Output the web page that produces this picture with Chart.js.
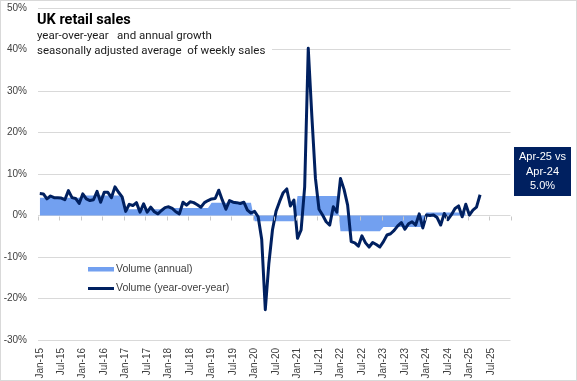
<!DOCTYPE html>
<html><head><meta charset="utf-8">
<script src="https://cdn.jsdelivr.net/npm/chart.js@4.4.1/dist/chart.umd.min.js"></script>
<style>html,body{margin:0;padding:0;background:#fff}#wrap{width:577px;height:381px;position:relative}canvas{display:block}</style>
</head><body><div id="wrap"><canvas id="c" width="577" height="381"></canvas></div>
<script>
// ---- data ----
const monthNames = ['Jan','Feb','Mar','Apr','May','Jun','Jul','Aug','Sep','Oct','Nov','Dec'];
const yearLabels = ['15','16','17','18','19','20','21','22','23','24','25'];
const categories = [];
yearLabels.forEach(y => monthNames.forEach(m => categories.push(m + '-' + y)));

// monthly volume, year-over-year % (Jan-15 .. Apr-25)
const yoyVolume = [
  5.3, 5.2, 4.0, 4.7, 4.3, 4.3, 4.2, 3.8, 6.0, 4.3, 4.1, 2.9,
  5.2, 4.0, 3.6, 3.8, 5.8, 3.2, 5.6, 5.6, 4.3, 6.9, 5.6, 4.5,
  1.0, 2.7, 2.4, 3.1, 0.8, 2.8, 0.8, 2.0, 0.9, 0.4, 1.2, 1.9,
  2.1, 1.7, 0.9, 0.4, 3.2, 2.5, 3.3, 3.1, 2.6, 2.0, 3.1, 3.6,
  4.0, 4.1, 6.1, 3.7, 1.5, 3.6, 3.2, 3.1, 2.9, 3.2, 1.3, 0.6,
  1.0, -0.3, -5.8, -22.7, -11.5, -3.5, 1.0, 3.4, 5.5, 6.4, 2.3, 3.7,
  -5.5, -3.5, 6.9, 40.3, 24.0, 9.0, 1.5, 0.1, -1.5, -2.3, 2.1, 0.8,
  8.9, 6.3, 2.5, -6.3, -6.6, -7.4, -4.9, -6.6, -7.6, -6.5, -7.0, -7.6,
  -6.3, -4.7, -4.4, -3.6, -2.5, -1.7, -3.3, -2.0, -1.5, -2.3, 0.4, -3.0,
  0.1, 0.0, 0.1, -0.5, -2.3, 0.5, -1.0, 0.2, 1.7, 2.3, -0.3, 2.7,
  0.1, 1.3, 2.0, 5.0
];
// annual volume growth %, 2015..2024
const annualYears = ['15','16','17','18','19','20','21','22','23','24'];
const annualVolume = [4.3, 4.8, 1.5, 1.8, 3.1, -1.4, 4.7, -3.8, -2.8, 0.7];

const yMin = -30, yMax = 50, yStep = 10;
const labelEvery = 6;

const seriesNames = ['Volume (annual)', 'Volume (year-over-year)'];
const titleText = 'UK retail sales';
const subtitleLines = ['year-over-year   and annual growth', 'seasonally adjusted average  of weekly sales'];

// annual values repeated across each month of their year (area chart)
const annualMonthly = [];
annualYears.forEach((y, i) => monthNames.forEach(() => annualMonthly.push(annualVolume[i])));

const NAVY = '#002060';
const LIGHT = '#72a0f0';
const GRID = '#d9d9d9';
const AXISFONT = "'Liberation Sans', Arial, sans-serif";

const bgPlugin = {
  id: 'bg',
  beforeDraw(chart) {
    const c = chart.ctx;
    c.save();
    c.fillStyle = '#fff';
    c.fillRect(0, 0, chart.width, chart.height);
    c.restore();
  }
};

const zeroTicks = {
  id: 'zeroTicks',
  afterDatasetsDraw(chart) {
    const xs = chart.scales.x, ys = chart.scales.y;
    const c = chart.ctx;
    const y0 = Math.round(ys.getPixelForValue(0)) + 0.5;
    const half = (xs.getPixelForValue(1) - xs.getPixelForValue(0)) / 2;
    c.save();
    c.strokeStyle = '#c8c8c8';
    c.lineWidth = 1;
    c.beginPath();
    for (let i = 0; i <= categories.length; i += labelEvery) {
      const x = Math.round(xs.getPixelForValue(i) - half) + 0.5;
      c.moveTo(x, y0);
      c.lineTo(x, y0 + 4);
    }
    c.stroke();
    c.restore();
  }
};

const overlay = {
  id: 'overlay',
  afterDraw(chart) {
    const c = chart.ctx;
    c.save();
    // title block
    c.fillStyle = '#fff';
    c.fillRect(36, 10, 236, 49);
    c.fillStyle = '#000';
    c.textBaseline = 'alphabetic';
    c.textAlign = 'left';
    c.font = "bold 14.5px Roboto, sans-serif";
    c.fillText(titleText, 37, 23.5);
    c.fillStyle = '#1a1a1a';
    c.font = "11.5px Roboto, sans-serif";
    c.fillText(subtitleLines[0], 37, 38.5);
    c.fillText(subtitleLines[1], 37, 54);

    // legend
    const ds = chart.data.datasets;
    c.font = "10.5px " + AXISFONT;
    c.textBaseline = 'middle';
    c.fillStyle = ds[1].backgroundColor;
    c.fillRect(88, 267, 26, 4.5);
    c.fillStyle = '#404040';
    c.fillText(ds[1].label, 116, 269.5);
    c.strokeStyle = ds[0].borderColor;
    c.lineWidth = 3;
    c.beginPath(); c.moveTo(88, 288.5); c.lineTo(114, 288.5); c.stroke();
    c.fillText(ds[0].label, 116, 288.5);

    // annotation box
    const last = yoyVolume.length - 1;
    c.fillStyle = NAVY;
    c.fillRect(514, 147, 57, 49);
    c.fillStyle = '#fff';
    c.textAlign = 'center';
    c.font = "11px " + AXISFONT;
    c.fillText(categories[last] + ' vs', 542.5, 157);
    c.fillText(categories[last - 12], 542.5, 171.5);
    c.fillText(yoyVolume[last].toFixed(1) + '%', 542.5, 186);

    // chart border
    c.strokeStyle = '#d9d9d9';
    c.lineWidth = 1;
    c.strokeRect(0.5, 0.5, chart.width - 1, chart.height - 1);
    c.restore();
  }
};

new Chart(document.getElementById('c'), {
  type: 'line',
  data: {
    labels: categories,
    datasets: [
      {
        label: seriesNames[1],
        data: yoyVolume,
        borderColor: NAVY,
        borderWidth: 3,
        pointRadius: 0,
        tension: 0,
        fill: false,
        borderJoinStyle: 'round',
        order: 1
      },
      {
        label: seriesNames[0],
        data: annualMonthly,
        borderWidth: 0,
        borderColor: 'rgba(0,0,0,0)',
        backgroundColor: LIGHT,
        pointRadius: 0,
        tension: 0,
        fill: 'origin',
        order: 2
      }
    ]
  },
  options: {
    responsive: false,
    animation: false,
    devicePixelRatio: 1,
    layout: { padding: { top: 8, right: 66.5, bottom: 0, left: 0 } },
    plugins: { legend: { display: false }, tooltip: { enabled: false }, title: { display: false } },
    scales: {
      x: {
        type: 'category',
        offset: true,
        grid: { display: false, drawTicks: false },
        border: { display: false },
        ticks: {
          autoSkip: false,
          minRotation: 90,
          maxRotation: 90,
          padding: 8,
          color: '#404040',
          font: { family: AXISFONT, size: 10 },
          callback: (v, i) => (i % labelEvery === 0 ? categories[i] : null)
        },
        afterFit: s => { s.height = 41; }
      },
      y: {
        min: yMin, max: yMax,
        grid: { color: GRID, lineWidth: 1, drawTicks: false },
        border: { display: false },
        ticks: {
          stepSize: yStep,
          padding: 11,
          color: '#404040',
          font: { family: AXISFONT, size: 10 },
          callback: v => v + '%'
        },
        afterFit: s => { s.width = 38; s.paddingTop = 0; s.paddingBottom = 0; }
      }
    }
  },
  plugins: [bgPlugin, zeroTicks, overlay]
});
</script></body></html>
